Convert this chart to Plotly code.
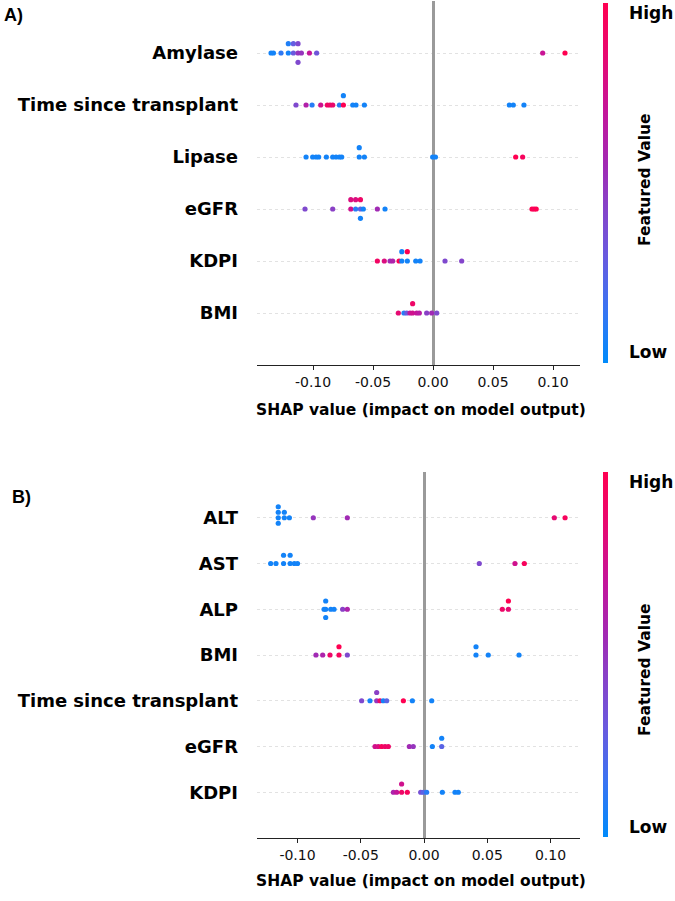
import numpy as np
import plotly.graph_objects as go

# ---------------- DATA ----------------
# Panel A (top to bottom)
A_features = ["Amylase", "Time since transplant", "Lipase", "eGFR", "KDPI", "BMI"]

A_amylase_shap = [-0.135, -0.133, -0.1267, -0.1206, -0.1206, -0.1164, -0.1164, -0.1125, -0.1125, -0.1125,
                  -0.1097, -0.103, -0.097, 0.0914, 0.110]
A_amylase_feat = [0.05, 0.05, 0.12, 0.05, 0.08, 0.30, 0.28, 0.50, 0.40, 0.40,
                  0.50, 0.70, 0.33, 0.72, 1.00]

A_tst_shap = [-0.1142, -0.1058, -0.1008, -0.0936, -0.0881, -0.0858, -0.0836, -0.078, -0.0747, -0.0747,
              -0.0669, -0.0642, -0.0572, 0.0636, 0.0669, 0.0758]
A_tst_feat = [0.40, 0.62, 0.10, 0.75, 0.92, 0.90, 0.88, 0.10, 1.00, 0.05,
              0.05, 0.05, 0.05, 0.05, 0.05, 0.05]

A_lipase_shap = [-0.1058, -0.1003, -0.0975, -0.0953, -0.0889, -0.0836, -0.0808, -0.078, -0.0761,
                 -0.0615, -0.0615, -0.0572, -0.0003, 0.002, 0.0689, 0.0747]
A_lipase_feat = [0.05, 0.05, 0.05, 0.05, 0.05, 0.05, 0.05, 0.05, 0.05,
                 0.05, 0.05, 0.05, 0.05, 0.05, 1.00, 0.95]

A_egfr_shap = [-0.1067, -0.0836, -0.0685, -0.0685, -0.0645, -0.0645, -0.0605, -0.0605, -0.0605,
               -0.0581, -0.0464, -0.040, 0.0825, 0.0843, 0.086]
A_egfr_feat = [0.40, 0.45, 0.75, 0.80, 0.10, 0.80, 0.25, 0.90, 0.05,
               0.05, 0.55, 0.05, 1.00, 0.95, 1.00]

A_kdpi_shap = [-0.0464, -0.0406, -0.0358, -0.0336, -0.0283, -0.026, -0.026, -0.0214, -0.0214,
               -0.0144, -0.0108, 0.010, 0.0239]
A_kdpi_feat = [0.92, 0.80, 0.55, 0.60, 1.00, 0.05, 0.05, 0.05, 1.00,
               0.05, 0.05, 0.40, 0.42]

A_bmi_shap = [-0.0289, -0.0242, -0.0219, -0.0192, -0.017, -0.017, -0.0136, -0.0114, -0.0053, -0.0011, 0.0031]
A_bmi_feat = [0.85, 0.10, 0.30, 0.70, 0.75, 0.90, 0.70, 0.65, 0.45, 0.55, 0.40]

# Panel B (top to bottom)
B_features = ["ALT", "AST", "ALP", "BMI", "Time since transplant", "eGFR", "KDPI"]

B_alt_shap = [-0.1152, -0.1152, -0.1152, -0.1152, -0.1104, -0.1104, -0.1064, -0.0875, -0.0606, 0.103, 0.1115]
B_alt_feat = [0.05, 0.05, 0.05, 0.05, 0.05, 0.05, 0.05, 0.50, 0.55, 0.85, 0.95]

B_ast_shap = [-0.1212, -0.117, -0.1110, -0.1110, -0.1058, -0.1058, -0.1025, -0.100, 0.0437, 0.0719, 0.0793]
B_ast_feat = [0.05, 0.05, 0.05, 0.05, 0.05, 0.05, 0.05, 0.05, 0.40, 0.75, 0.95]

B_alp_shap = [-0.079, -0.0777, -0.0777, -0.0777, -0.0737, -0.0711, -0.0643, -0.0606, 0.0619, 0.0667, 0.0667]
B_alp_feat = [0.05, 0.05, 0.05, 0.05, 0.05, 0.05, 0.45, 0.60, 0.90, 0.85, 1.00]

B_bmi_shap = [-0.0854, -0.0801, -0.0743, -0.0672, -0.0672, -0.0606, 0.0411, 0.0411, 0.0508, 0.0751]
B_bmi_feat = [0.55, 0.60, 0.90, 0.95, 1.00, 0.40, 0.05, 0.05, 0.05, 0.05]

B_tst_shap = [-0.0493, -0.0427, -0.0374, -0.0374, -0.0348, -0.0322, -0.0295, -0.0163, -0.0092, 0.0061]
B_tst_feat = [0.40, 0.05, 0.50, 0.45, 0.90, 0.05, 0.25, 1.00, 0.05, 0.05]

B_egfr_shap = [-0.0387, -0.0361, -0.0335, -0.0308, -0.0282, -0.0116, -0.0085, 0.0066, 0.014, 0.014]
B_egfr_feat = [0.75, 0.80, 0.95, 0.90, 0.90, 0.55, 0.50, 0.05, 0.25, 0.05]

B_kdpi_shap = [-0.0242, -0.0216, -0.0177, -0.0177, -0.0132, -0.0026, -0.0005, 0.0021, 0.0145, 0.0245, 0.0271]
B_kdpi_feat = [0.60, 0.70, 0.90, 0.75, 0.95, 0.35, 0.25, 0.10, 0.05, 0.05, 0.05]

A_shap = [A_amylase_shap, A_tst_shap, A_lipase_shap, A_egfr_shap, A_kdpi_shap, A_bmi_shap]
A_feat = [A_amylase_feat, A_tst_feat, A_lipase_feat, A_egfr_feat, A_kdpi_feat, A_bmi_feat]
B_shap = [B_alt_shap, B_ast_shap, B_alp_shap, B_bmi_shap, B_tst_shap, B_egfr_shap, B_kdpi_shap]
B_feat = [B_alt_feat, B_ast_feat, B_alp_feat, B_bmi_feat, B_tst_feat, B_egfr_feat, B_kdpi_feat]

x_tick_vals = [-0.10, -0.05, 0.0, 0.05, 0.10]
x_tick_text = ["-0.10", "-0.05", "0.00", "0.05", "0.10"]

# ---------------- STYLE ----------------
W, H = 675, 901
FONT = "DejaVu Sans"
colorscale = [[0.0, "#008bfb"], [0.15, "#3a74f2"], [0.3, "#6a5ade"], [0.45, "#8a40c6"],
              [0.55, "#a12ab4"], [0.7, "#c4159a"], [0.85, "#e60a72"], [1.0, "#ff0051"]]


def px_x(p):
    return p / W


def px_y(p):
    return 1 - p / H


def swarm(xs, row_height=0.4):
    ys = np.zeros(len(xs))
    counts = {}
    for i, v in enumerate(xs):
        key = round(v, 6)
        layer = counts.get(key, 0)
        ys[i] = np.ceil(layer / 2) * ((layer % 2) * 2 - 1)
        counts[key] = layer + 1
    ys *= 0.9 * (row_height / np.max(ys + 1))
    return ys


fig = go.Figure()


def add_panel(shap_lists, feat_lists, xa, ya, cax):
    n = len(shap_lists)
    for i, (s, f) in enumerate(zip(shap_lists, feat_lists)):
        row = n - 1 - i
        yoff = swarm(s)
        fig.add_trace(go.Scatter(
            x=s, y=row + yoff, mode="markers", xaxis=xa, yaxis=ya,
            marker=dict(size=5.2, color=f, coloraxis=cax, line=dict(width=0)),
            showlegend=False, hoverinfo="x"))


add_panel(A_shap, A_feat, "x", "y", "coloraxis")
add_panel(B_shap, B_feat, "x2", "y2", "coloraxis2")

xdom = [px_x(257), px_x(580)]
common_x = dict(domain=xdom, showline=True, linecolor="#222222", linewidth=1, ticks="outside",
                ticklen=4, tickcolor="#222222", tickvals=x_tick_vals, ticktext=x_tick_text,
                tickfont=dict(family=FONT, size=14, color="#111111"), showgrid=False,
                zeroline=True, zerolinecolor="#9a9a9a", zerolinewidth=2.6, fixedrange=True)
common_y = dict(showline=False, ticks="", showgrid=True, gridcolor="#e2e2e2", griddash="dot",
                gridwidth=1, zeroline=False, tickfont=dict(family=FONT, size=18, color="#000000"),
                ticklabelstandoff=18, fixedrange=True)

fig.update_layout(
    width=W, height=H, margin=dict(l=0, r=0, t=0, b=0),
    paper_bgcolor="white", plot_bgcolor="white",
    xaxis=dict(common_x, anchor="y", range=[-0.1467, 0.1225]),
    yaxis=dict(common_y, anchor="x", domain=[px_y(365), px_y(1)], range=[-1, len(A_features)],
               tickvals=list(range(len(A_features))),
               ticktext=["<b>%s</b>" % t for t in A_features[::-1]]),
    xaxis2=dict(common_x, anchor="y2", range=[-0.132, 0.1233]),
    yaxis2=dict(common_y, anchor="x2", domain=[px_y(838), px_y(472)], range=[-1, len(B_features)],
                tickvals=list(range(len(B_features))),
                ticktext=["<b>%s</b>" % t for t in B_features[::-1]]),
    coloraxis=dict(colorscale=colorscale, cmin=0, cmax=1,
                   colorbar=dict(x=px_x(603), xanchor="left", thickness=5, xpad=0, ypad=0,
                                 len=360 / H, lenmode="fraction", y=px_y(183), yanchor="middle",
                                 outlinewidth=0, showticklabels=False, ticks="")),
    coloraxis2=dict(colorscale=colorscale, cmin=0, cmax=1,
                    colorbar=dict(x=px_x(603), xanchor="left", thickness=5, xpad=0, ypad=0,
                                  len=365 / H, lenmode="fraction", y=px_y(654.5), yanchor="middle",
                                  outlinewidth=0, showticklabels=False, ticks="")),
)

ann = []


def text(x, y, t, size, xanchor="left", angle=0, family=FONT):
    ann.append(dict(x=px_x(x), y=px_y(y), xref="paper", yref="paper", text=t, showarrow=False,
                    xanchor=xanchor, yanchor="middle", textangle=angle,
                    font=dict(family=family, size=size, color="#000000")))


text(2, 15, "<b>A)</b>", 18, family="Liberation Sans")
text(10, 497, "<b>B)</b>", 18, family="Liberation Sans")
for (hy, ly, fy) in [(13, 352, 180), (482, 827, 670)]:
    text(627, hy, "<b>High</b>", 17)
    text(627, ly, "<b>Low</b>", 17)
    text(645, fy, "<b>Featured Value</b>", 15.5, xanchor="center", angle=-90)
text(421, 410, "<b>SHAP value (impact on model output)</b>", 15.5, xanchor="center")
text(421, 881, "<b>SHAP value (impact on model output)</b>", 15.5, xanchor="center")
fig.update_layout(annotations=ann)

fig.write_html("out.html")
